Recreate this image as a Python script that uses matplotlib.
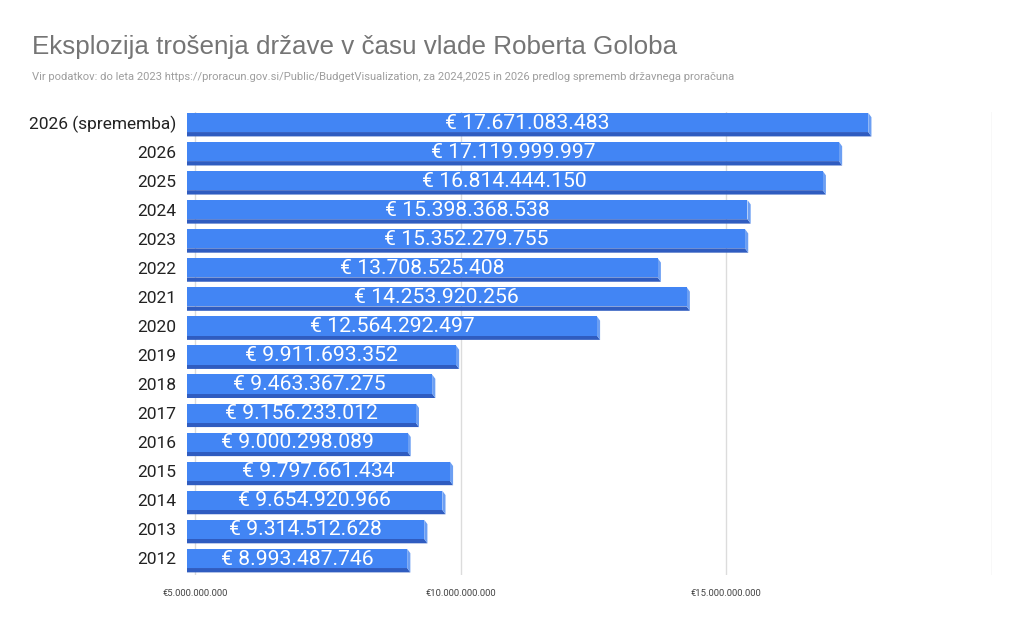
import matplotlib
matplotlib.use('Agg')
import matplotlib.pyplot as plt
from matplotlib.patches import Polygon
import numpy as np

plt.rcParams['font.family'] = ['Roboto', 'DejaVu Sans']

# budget spending by year, bottom to top
years = ['2012', '2013', '2014', '2015', '2016', '2017', '2018', '2019',
         '2020', '2021', '2022', '2023', '2024', '2025', '2026',
         '2026 (sprememba)']
spending = [8993487746, 9314512628, 9654920966, 9797661434, 9000298089,
            9156233012, 9463367275, 9911693352, 12564292497, 14253920256,
            13708525408, 15352279755, 15398368538, 16814444150,
            17119999997, 17671083483]
x_ticks = [5e9, 10e9, 15e9, 20e9]
x_tick_labels = ['€5.000.000.000', '€10.000.000.000', '€15.000.000.000', '']

x_min, x_max = 4.85e9, 20e9

face = '#4285f4'
side = '#6c9ff3'
bottom = '#2f5cc0'


def fmt(v):
    return '€ ' + f'{v:,}'.replace(',', '.')


fig = plt.figure(figsize=(10.24, 6.28), dpi=100)
ax = fig.add_axes([187 / 1024, 1 - 575 / 628, 805 / 1024, 463 / 628])
ax.set_xlim(x_min, x_max)
ax.set_ylim(-0.42, 15.51)

# bar geometry (3d look: darker floor strip and lighter right side)
h = 0.66
dy = 0.15
dx = 0.06e9
y = np.arange(len(years)) + 0.15

for xv in x_ticks:
    ax.axvline(xv, color='#dcdcdc', lw=1, zorder=0)

for yi, v in zip(y, spending):
    yt, yb = yi + h / 2, yi - h / 2
    ax.add_patch(Polygon([(x_min, yb), (v, yb), (v + dx, yb - dy), (x_min, yb - dy)],
                         closed=True, facecolor=bottom, edgecolor='none', zorder=2))
    ax.add_patch(Polygon([(v, yt), (v + dx, yt - dy), (v + dx, yb - dy), (v, yb)],
                         closed=True, facecolor=side, edgecolor='none', zorder=2))
    ax.text((x_min + v) / 2, yi - 0.02, fmt(v), ha='center', va='center',
            color='white', fontsize=15.2, zorder=4)

ax.barh(y, [v - x_min for v in spending], left=x_min, height=h,
        color=face, edgecolor='none', zorder=3)

ax.set_yticks(y)
ax.set_yticklabels(years, fontsize=12.5, color='#222222')
ax.set_xticks(x_ticks)
ax.set_xticklabels(x_tick_labels, fontsize=6.8, color='#444444')
ax.tick_params(axis='both', length=0)
ax.tick_params(axis='y', pad=8)
ax.tick_params(axis='x', pad=10)
for s in ax.spines.values():
    s.set_visible(False)

fig.text(32 / 1024, 1 - 47 / 628, 'Eksplozija trošenja države v času vlade Roberta Goloba',
         fontsize=18.7, color='#757575', va='center', ha='left',
         family=['Liberation Sans', 'Roboto'])
fig.text(32 / 1024, 1 - 77 / 628,
         'Vir podatkov: do leta 2023 https://proracun.gov.si/Public/BudgetVisualization, '
         'za 2024,2025 in 2026 predlog sprememb državnega proračuna',
         fontsize=8.1, color='#9e9e9e', va='center', ha='left')

plt.savefig('out.png', dpi=100)
plt.close(fig)
